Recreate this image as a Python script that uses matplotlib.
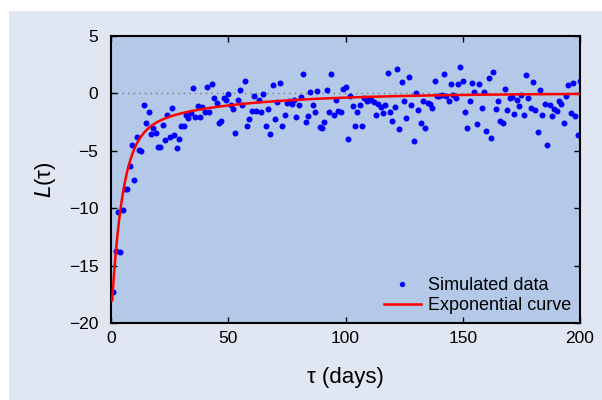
import numpy as np
import matplotlib
matplotlib.use("Agg")
import matplotlib.pyplot as plt
from matplotlib.patches import Rectangle

plt.rcParams['font.family'] = ['Liberation Sans', 'DejaVu Sans']

# simulated data, one point per day
tau = np.arange(1, 201)
sim = [
    -17.3, -13.75, -10.36, -13.8, -10.2, -8.33, -8.33, -6.3, -4.5, -7.54,
    -3.8, -4.93, -5.0, -1.0, -2.58, -1.65, -3.5, -3.04, -3.45, -4.67,
    -4.7, -2.75, -4.09, -1.91, -3.8, -1.3, -3.65, -4.78, -3.94, -2.87,
    -2.87, -1.9, -2.17, -1.68, 0.47, -2.03, -1.1, -2.08, -1.18, -1.65,
    0.56, -1.65, 0.82, -0.43, -0.86, -2.55, -2.4, -0.4, -0.57, -0.03,
    -1.04, -1.39, -3.42, -0.6, 0.3, -0.98, 1.1, -2.81, -2.26, -1.5,
    -0.26, -1.5, -0.55, -1.62, -0.08, -2.8, -1.39, -3.54, 0.73, -2.2,
    -0.72, 0.93, -2.87, -1.91, -0.81, -0.64, -0.95, -0.6, -2.06, -1.04,
    -0.34, 1.69, -2.49, -1.97, 0.12, -1.01, -1.62, 0.21, -2.95, -2.98,
    -2.49, 0.27, -1.65, 1.72, -1.91, -0.6, -1.5, -1.65, 0.41, 0.53,
    -3.97, -0.23, -1.13, -2.81, -1.59, -1.04, -2.81, -0.37, -0.64, -0.57,
    -0.6, -0.78, -1.85, -0.9, -1.18, -1.74, -1.04, 1.75, -1.65, -2.37,
    -1.21, 2.15, -3.1, 0.99, -0.66, -2.14, 1.43, -1.04, -4.12, 0.0,
    -1.42, -2.6, -0.69, -2.98, -0.81, -0.95, -1.25, 1.1, -0.23, -0.23,
    -0.14, 1.69, -0.26, -0.66, 0.82, -0.11, -0.43, 0.79, 2.27, 1.05,
    -1.65, -2.98, -0.69, 0.93, 0.1, -2.7, 0.82, -1.3, 0.1, -3.25,
    1.37, -3.88, 1.84, -1.39, -0.69, -2.4, -2.6, 0.41, -1.47, -0.43,
    -0.29, -1.77, -0.57, -1.13, -0.11, -1.85, 1.63, -0.37, -1.25, 0.99,
    -1.47, -3.36, 0.32, -1.91, -0.95, -4.47, -0.98, -2.0, -1.36, -1.53,
    -0.66, -0.95, -2.58, -0.26, 0.76, -1.74, 0.93, -1.97, -3.65, 1.1,
]

# exponential curve: (amplitude, decay time in days) for each term
exp_terms = [(15.0, 4.5), (2.0, 14.0), (2.7, 50.0)]

x_ticks = [0, 50, 100, 150, 200]
y_ticks = [-20, -15, -10, -5, 0, 5]

fig = plt.figure(figsize=(6.02, 4.0), dpi=100, facecolor='white')
fig.patches.append(Rectangle((9 / 602, 0), 1, 1 - 11 / 400, transform=fig.transFigure,
                             facecolor='#e0e7f3', edgecolor='none', zorder=-10))

ax = fig.add_axes([111 / 602, 1 - 323 / 400, 469 / 602, 287 / 400])
ax.set_zorder(1)
ax.set_facecolor('#b4c9e8')

t_curve = np.linspace(0.5, 200, 800)
curve = np.zeros_like(t_curve)
for amp, t_dec in exp_terms:
    curve -= amp * np.exp(-t_curve / t_dec)

ax.axhline(0, color='#777777', linestyle=(0, (1, 3)), linewidth=1.0, zorder=1)
ax.plot(tau, sim, 'o', color='#0000ff', markersize=4.3, markeredgewidth=0,
        label='Simulated data', zorder=2)
ax.plot(t_curve, curve, color='#ff0000', linewidth=1.8, label='Exponential curve', zorder=3)

ax.set_xlim(0, 200)
ax.set_ylim(-20, 5)
ax.set_xticks(x_ticks)
ax.set_yticks(y_ticks)
ax.set_yticklabels(['\u221220', '\u221215', '\u221210', '\u22125', '0', '5'])
ax.tick_params(direction='in', length=4, width=1, top=True, right=True,
               labelsize=12.5)
ax.tick_params(axis='y', pad=9)
ax.tick_params(axis='x', pad=6)

for s in ax.spines.values():
    s.set_linewidth(1.5)
    s.set_color('black')

ax.set_xlabel('\u03c4 (days)', fontsize=16, labelpad=15)
ax.set_ylabel('$L$(\u03c4)', fontsize=16, labelpad=8)

ax.legend(loc='lower right', frameon=False, fontsize=13, handlelength=2.0,
          handletextpad=0.4, borderaxespad=0.1, labelspacing=0.15, numpoints=1,
          markerscale=0.9)

fig.savefig('out.png', dpi=100, facecolor=fig.get_facecolor())
